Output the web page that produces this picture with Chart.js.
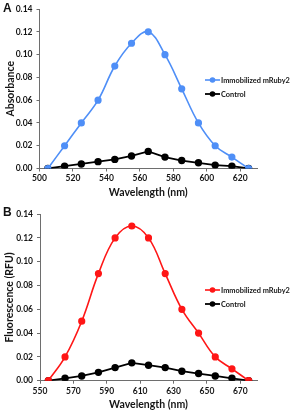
<!DOCTYPE html>
<html>
<head>
<meta charset="utf-8">
<script src="https://cdn.jsdelivr.net/npm/chart.js@4"></script>
<style>
  html, body { margin: 0; padding: 0; background: #fff; }
  body { width: 292px; height: 411px; position: relative; overflow: hidden; font-family: Lato, "Open Sans", sans-serif; }
  .panel { position: absolute; left: 0; width: 292px; }
  .letter { position: absolute; font-weight: bold; font-size: 12px; color: #111; font-family: "Liberation Sans", Arial, sans-serif; }
</style>
</head>
<body>
<div class="panel" style="top:0;height:205px;"><canvas id="chartA" width="292" height="205"></canvas></div>
<div class="panel" style="top:205px;height:206px;"><canvas id="chartB" width="292" height="206"></canvas></div>
<div class="letter" style="left:3px;top:1px;">A</div>
<div class="letter" style="left:3px;top:205px;">B</div>
<script>
// ---- Data ----
const wavelengthsA = [505, 515, 525, 535, 545, 555, 565, 575, 585, 595, 605, 615, 625];
const absorbanceMRuby2 = [0, 0.02, 0.04, 0.06, 0.09, 0.11, 0.12, 0.10, 0.07, 0.04, 0.02, 0.01, 0];
const absorbanceControl = [0, 0.002, 0.004, 0.006, 0.008, 0.011, 0.015, 0.010, 0.007, 0.005, 0.003, 0.002, 0];

const wavelengthsB = [555, 565, 575, 585, 595, 605, 615, 625, 635, 645, 655, 665, 675];
const fluorescenceMRuby2 = [0, 0.02, 0.05, 0.09, 0.12, 0.13, 0.12, 0.09, 0.06, 0.04, 0.02, 0.01, 0];
const fluorescenceControl = [0, 0.002, 0.004, 0.007, 0.011, 0.015, 0.013, 0.011, 0.008, 0.006, 0.004, 0.002, 0];

const xTicksA = [500, 520, 540, 560, 580, 600, 620];
const xTicksB = [550, 570, 590, 610, 630, 650, 670];
const yTicks = [0, 0.02, 0.04, 0.06, 0.08, 0.10, 0.12, 0.14];

const seriesNames = ['Immobilized mRuby2', 'Control'];
const yTitleA = 'Absorbance';
const yTitleB = 'Fluorescence (RFU)';
const xTitle = 'Wavelength (nm)';

// ---- Rendering ----
const TEXT = '#151515';
const AXIS = '#6e6e6e';
const FONT = 'Lato, "Open Sans", sans-serif';

const legendPlugin = {
  id: 'insideLegend',
  afterDraw(chart, args, opts) {
    const ctx = chart.ctx;
    ctx.save();
    // fit the longest label into the available width
    let size = 8.5;
    ctx.font = 'bold ' + size + 'px ' + FONT;
    const widest = Math.max(...chart.data.datasets.map(d => ctx.measureText(d.label).width));
    if (widest > opts.textWidth) size = size * opts.textWidth / widest;
    chart.data.datasets.forEach((ds, i) => {
      const y = opts.y[i];
      const x0 = opts.x, x1 = opts.x + opts.lineLen;
      ctx.strokeStyle = ds.borderColor;
      ctx.lineWidth = ds.borderWidth;
      ctx.beginPath(); ctx.moveTo(x0, y); ctx.lineTo(x1, y); ctx.stroke();
      ctx.fillStyle = ds.pointBackgroundColor;
      ctx.beginPath(); ctx.arc((x0 + x1) / 2, y, ds.pointRadius, 0, Math.PI * 2); ctx.fill();
      ctx.fillStyle = TEXT;
      ctx.font = 'bold ' + size + 'px ' + FONT;
      ctx.textBaseline = 'middle';
      ctx.textAlign = 'left';
      ctx.fillText(ds.label, x1 + 1, y + 0.5);
    });
    ctx.restore();
  }
};

function makeChart(id, xs, main, ctrl, color, xTicks, xMin, xMax, yTitle, geom) {
  const toPts = (arr) => arr.map((v, i) => ({ x: xs[i], y: v }));
  return new Chart(document.getElementById(id), {
    type: 'line',
    data: {
      datasets: [
        { label: seriesNames[0], data: toPts(main), borderColor: color, backgroundColor: color,
          pointBackgroundColor: color, pointBorderColor: color, pointRadius: 2.8, borderWidth: 1.6,
          tension: 0.4, fill: false },
        { label: seriesNames[1], data: toPts(ctrl), borderColor: '#000', backgroundColor: '#000',
          pointBackgroundColor: '#000', pointBorderColor: '#000', pointRadius: 2.8, borderWidth: 1.8,
          tension: 0, fill: false }
      ]
    },
    plugins: [legendPlugin],
    options: {
      responsive: false,
      animation: false,
      layout: { padding: geom.padding },
      plugins: {
        legend: { display: false },
        tooltip: { enabled: false },
        insideLegend: geom.legend
      },
      scales: {
        x: {
          type: 'linear', min: xMin, max: xMax,
          afterBuildTicks: (s) => { s.ticks = xTicks.map(v => ({ value: v })); },
          afterFit: (s) => { s.height = geom.xHeight; },
          grid: { drawOnChartArea: false, drawTicks: true, tickLength: 3, tickColor: AXIS },
          border: { display: true, color: AXIS, width: 1 },
          ticks: { color: TEXT, padding: 2, maxRotation: 0, font: { family: FONT, size: 8.5, weight: 'bold' },
                   callback: (v) => String(v) },
          title: { display: true, text: xTitle, color: TEXT, padding: 0,
                   font: { family: FONT, size: 10.5, weight: 'bold' } }
        },
        y: {
          type: 'linear', min: 0, max: 0.14,
          afterBuildTicks: (s) => { s.ticks = yTicks.map(v => ({ value: v })); },
          afterFit: (s) => { s.width = geom.yWidth; },
          grid: { drawOnChartArea: false, drawTicks: true, tickLength: 3, tickColor: AXIS },
          border: { display: true, color: AXIS, width: 1 },
          ticks: { color: TEXT, padding: 4, font: { family: FONT, size: 8.5, weight: 'bold' },
                   callback: (v) => Number(v).toFixed(2) },
          title: { display: true, text: yTitle, color: TEXT, padding: 0,
                   font: { family: FONT, size: 10.5, weight: 'bold' } }
        }
      }
    }
  });
}

makeChart('chartA', wavelengthsA, absorbanceMRuby2, absorbanceControl, '#4f8ff7',
  xTicksA, 500, 630, yTitleA, {
    padding: { left: 4, right: 35, top: 5, bottom: 6 },
    xHeight: 30.5, yWidth: 35.5,
    legend: { x: 205, lineLen: 15, y: [80, 94], textWidth: 69 }
  });

makeChart('chartB', wavelengthsB, fluorescenceMRuby2, fluorescenceControl, '#ff1616',
  xTicksB, 550, 680, yTitleB, {
    padding: { left: 3, right: 35, top: 9, bottom: 0 },
    xHeight: 30.3, yWidth: 37,
    legend: { x: 205, lineLen: 15, y: [85, 99], textWidth: 69 }
  });
</script>
</body>
</html>
